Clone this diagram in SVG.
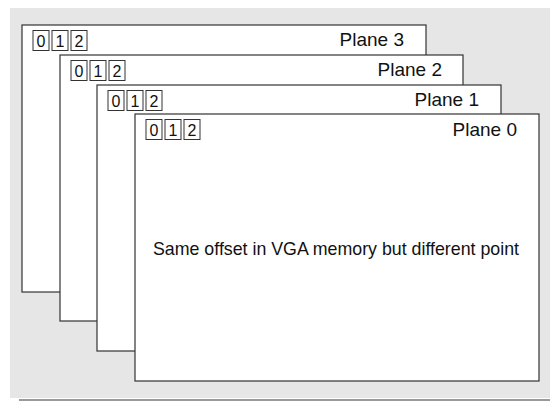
<svg xmlns="http://www.w3.org/2000/svg" width="550" height="402" viewBox="0 0 550 402">
  <style>
    .plane { fill: #ffffff; stroke: #333333; stroke-width: 1.2; }
    .cell { fill: #ffffff; stroke: #333333; stroke-width: 1; }
    .lbl { font-family: "Liberation Sans", Arial, sans-serif; font-size: 19px; fill: #111111; }
    .digit { font-family: "Liberation Sans", Arial, sans-serif; font-size: 16px; fill: #111111; text-anchor: middle; }
    .note { font-family: "Liberation Sans", Arial, sans-serif; font-size: 17.8px; fill: #111111; }
  </style>
  <defs>
    <g id="cells">
      <rect class="cell" x="0" y="0" width="16" height="20"/>
      <rect class="cell" x="19" y="0" width="16" height="20"/>
      <rect class="cell" x="38" y="0" width="16" height="20"/>
      <text class="digit" x="8" y="16">0</text>
      <text class="digit" x="27" y="16">1</text>
      <text class="digit" x="46" y="16">2</text>
    </g>
  </defs>
  <!-- backdrop -->
  <rect x="10" y="8" width="540" height="390" fill="#e6e6e7"/>
  <line x1="19" y1="400" x2="550" y2="400" stroke="#999999" stroke-width="2"/>

  <g id="connectors"></g>

  <g id="plane3">
    <rect class="plane" x="22" y="25" width="404" height="267"/>
    <use href="#cells" x="33" y="30.5"/>
    <text class="lbl" x="404" y="46" text-anchor="end">Plane 3</text>
  </g>
  <g id="plane2">
    <rect class="plane" x="60" y="55" width="403" height="266"/>
    <use href="#cells" x="71" y="60.5"/>
    <text class="lbl" x="442" y="76" text-anchor="end">Plane 2</text>
  </g>
  <g id="plane1">
    <rect class="plane" x="97" y="85" width="404" height="266"/>
    <use href="#cells" x="108" y="90.5"/>
    <text class="lbl" x="479" y="106" text-anchor="end">Plane 1</text>
  </g>
  <g id="plane0">
    <rect class="plane" x="135" y="114" width="404" height="267"/>
    <use href="#cells" x="146" y="119.5"/>
    <text class="lbl" x="517" y="136" text-anchor="end">Plane 0</text>
    <text class="note" x="336" y="255" text-anchor="middle">Same offset in VGA memory but different point</text>
  </g>
</svg>
